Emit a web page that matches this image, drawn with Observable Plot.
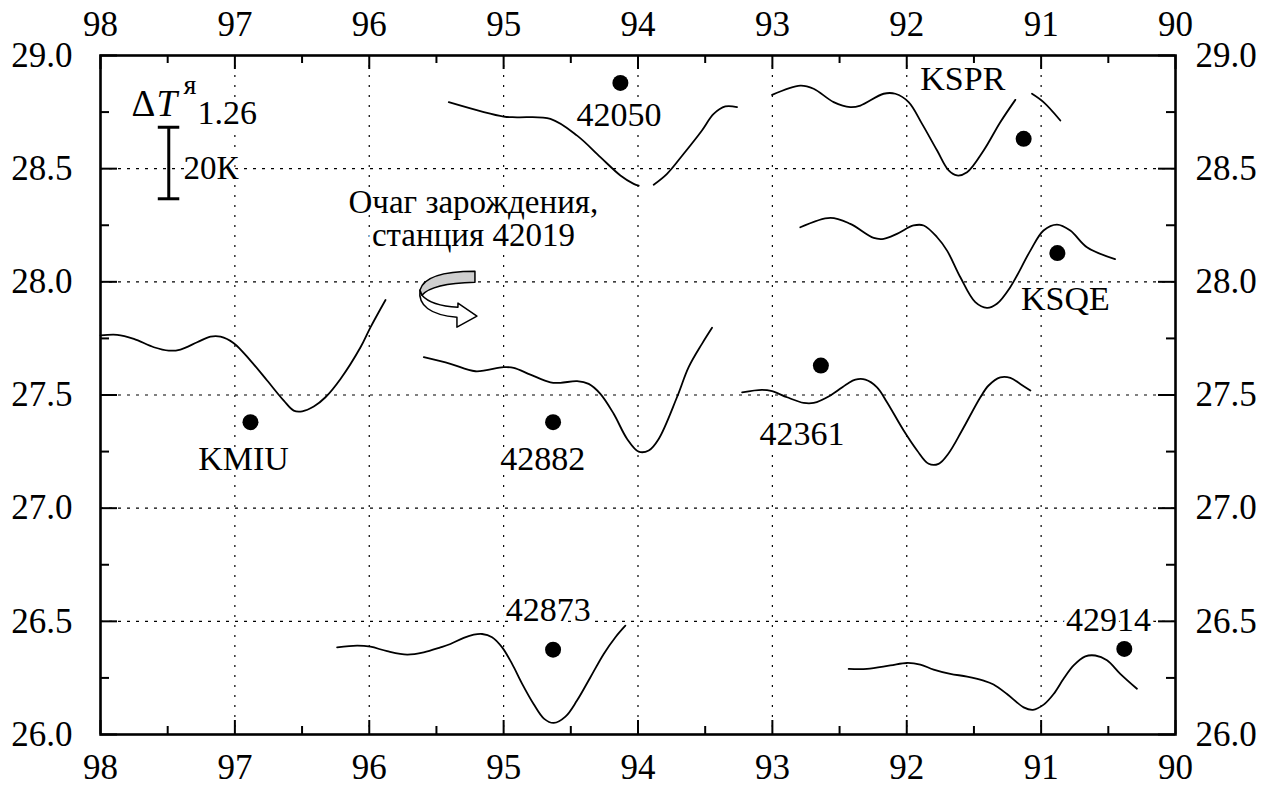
<!DOCTYPE html>
<html><head><meta charset="utf-8">
<script src="https://cdn.jsdelivr.net/npm/d3@7"></script>
<script src="https://cdn.jsdelivr.net/npm/@observablehq/plot@0.6"></script>
<style>
body{margin:0;background:#fff}
</style>
</head><body><div id="chart"></div>
<script>
// axis ticks
const xTicks = [98, 97, 96, 95, 94, 93, 92, 91, 90];
const xMinor = [97.5, 96.5, 95.5, 94.5, 93.5, 92.5, 91.5, 90.5];
const xGrid = [97, 96, 95, 94, 93, 92, 91];
const yTicks = [26.0, 26.5, 27.0, 27.5, 28.0, 28.5, 29.0];
const yMinor = [26.25, 26.75, 27.25, 27.75, 28.25, 28.75];
const yGrid = [26.5, 27.0, 27.5, 28.0, 28.5];

// station dots and labels
const stationNames = ["42050", "KSPR", "KSQE", "KMIU", "42882", "42361", "42873", "42914"];
const dotLon = [94.131, 91.13, 90.879, 96.884, 94.632, 92.639, 94.632, 90.381];
const dotLat = [28.879, 28.632, 28.127, 27.38, 27.38, 27.63, 26.375, 26.378];
const labelLon = [94.141, 91.583, 90.82, 96.936, 94.708, 92.779, 94.667, 90.498];
const labelLat = [28.735, 28.894, 27.922, 27.215, 27.218, 27.328, 26.548, 26.506];

// ΔT curves (lon, lat of the drawn trace); NaN = gap in the trace
const kmiuLon = [98.0, 97.876, 97.752, 97.603, 97.492, 97.405, 97.281, 97.182, 97.107, 97.008, 96.884, 96.76, 96.636, 96.562, 96.499, 96.413, 96.326, 96.214, 96.065, 95.991, 95.879];
const kmiuLat = [27.763, 27.766, 27.748, 27.711, 27.696, 27.701, 27.733, 27.758, 27.758, 27.729, 27.652, 27.564, 27.475, 27.431, 27.428, 27.449, 27.49, 27.571, 27.711, 27.799, 27.92];
const s42882Lon = [95.594, 95.396, 95.21, 95.0, 94.925, 94.801, 94.652, 94.577, 94.453, 94.367, 94.28, 94.181, 94.081, 93.995, 93.92, 93.846, 93.71, 93.623, 93.524, 93.449];
const s42882Lat = [27.667, 27.638, 27.605, 27.623, 27.62, 27.59, 27.556, 27.554, 27.561, 27.549, 27.505, 27.417, 27.306, 27.25, 27.255, 27.306, 27.49, 27.623, 27.726, 27.797];
const s42050Lon = [95.408, 95.0, 94.9, 94.652, 94.453, 94.28, 94.131, 94.032, 93.995, NaN, 93.883, 93.784, 93.66, 93.524, 93.437, 93.35, 93.263];
const s42050Lat = [28.794, 28.73, 28.727, 28.72, 28.646, 28.551, 28.47, 28.433, 28.425, NaN, 28.429, 28.477, 28.566, 28.669, 28.742, 28.775, 28.772];
const ksprLon = [93.002, 92.792, 92.693, 92.544, 92.42, 92.345, 92.172, 92.085, 91.986, 91.886, 91.774, 91.688, 91.626, 91.551, 91.428, 91.304, 91.192, NaN, 91.068, 90.982, 90.857];
const ksprLat = [28.826, 28.867, 28.853, 28.794, 28.772, 28.779, 28.831, 28.831, 28.794, 28.698, 28.58, 28.492, 28.47, 28.484, 28.58, 28.705, 28.804, NaN, 28.831, 28.794, 28.713];
const ksqeLon = [92.792, 92.568, 92.42, 92.246, 92.172, 92.073, 91.949, 91.874, 91.774, 91.7, 91.601, 91.49, 91.403, 91.329, 91.23, 91.08, 90.982, 90.882, 90.783, 90.659, 90.45];
const ksqeLat = [28.241, 28.283, 28.256, 28.194, 28.19, 28.212, 28.249, 28.249, 28.197, 28.138, 28.02, 27.91, 27.885, 27.903, 27.976, 28.138, 28.227, 28.253, 28.227, 28.153, 28.10];
const s42361Lon = [93.225, 93.077, 93.002, 92.891, 92.767, 92.693, 92.568, 92.444, 92.382, 92.308, 92.221, 92.147, 92.023, 91.923, 91.837, 91.763, 91.688, 91.589, 91.452, 91.391, 91.304, 91.229, 91.155, 91.08];
const s42361Lat = [27.512, 27.523, 27.517, 27.49, 27.465, 27.465, 27.498, 27.549, 27.568, 27.568, 27.534, 27.468, 27.343, 27.255, 27.196, 27.196, 27.243, 27.343, 27.49, 27.542, 27.578, 27.576, 27.549, 27.52];
const s42873Lon = [96.239, 96.09, 95.991, 95.867, 95.718, 95.594, 95.47, 95.396, 95.297, 95.222, 95.16, 95.086, 95.011, 94.937, 94.862, 94.777, 94.698, 94.627, 94.54, 94.454, 94.354, 94.255, 94.168, 94.094];
const s42873Lat = [26.385, 26.393, 26.388, 26.368, 26.353, 26.363, 26.385, 26.4, 26.427, 26.441, 26.444, 26.43, 26.385, 26.312, 26.224, 26.135, 26.069, 26.051, 26.079, 26.15, 26.253, 26.356, 26.43, 26.481];
const s42914Lon = [92.432, 92.296, 92.122, 91.998, 91.899, 91.8, 91.676, 91.551, 91.428, 91.354, 91.254, 91.13, 91.061, 90.981, 90.907, 90.833, 90.758, 90.671, 90.597, 90.51, 90.411, 90.287];
const s42914Lat = [26.29, 26.29, 26.305, 26.316, 26.309, 26.287, 26.268, 26.256, 26.238, 26.221, 26.179, 26.12, 26.109, 26.132, 26.179, 26.246, 26.305, 26.345, 26.349, 26.328, 26.268, 26.202];

// annotations
const annotationText = "Очаг зарождения,\nстанция 42019";
const annotationLon = [95.225];
const annotationLat = [28.16];
const arrowLon = [95.619];
const arrowLat = [28.045];
const scaleBarLon = [97.492];
const scaleBarLat = [28.683, 28.367];
const scaleBarLabel = "20К";

// build tables
const curveSets = [
  ["KMIU", kmiuLon, kmiuLat], ["42882", s42882Lon, s42882Lat], ["42050", s42050Lon, s42050Lat],
  ["KSPR", ksprLon, ksprLat], ["KSQE", ksqeLon, ksqeLat], ["42361", s42361Lon, s42361Lat],
  ["42873", s42873Lon, s42873Lat], ["42914", s42914Lon, s42914Lat]
];
const curves = curveSets.flatMap(([name, lons, lats]) => lons.map((lon, i) => ({station: name, lon, lat: lats[i]})));
const stations = stationNames.map((name, i) => ({name, lon: dotLon[i], lat: dotLat[i], labLon: labelLon[i], labLat: labelLat[i]}));

const W = 1273, H = 786;
const mL = 100, mR = 98, mT = 55, mB = 52;
const fw = W - mL - mR, fh = H - mT - mB;
const serif = "Liberation Serif";

function arrowMark(index, scales) {
  const x0 = scales.x(arrowLon[0]), y0 = scales.y(arrowLat[0]);
  const g = d3.create("svg:g")
    .attr("transform", `translate(${x0},${y0})`)
    .attr("stroke", "black").attr("stroke-width", 1.5).attr("stroke-linejoin", "round");
  g.append("path").attr("fill", "#fff")
    .attr("d", "M0,19 C-2,34 10,44 37,46 L37,56 L57,45 L38,32 L38,36 C20,35 8,31 2,24 Z");
  g.append("path").attr("fill", "#cfcfcf")
    .attr("d", "M55,0 Q5,0 0,19 L2,24 Q12,12 55,11 Z");
  return g.node();
}

const axisOpts = {fontFamily: serif, fontSize: 35, tickSize: 0, label: null};

const chart = Plot.plot({
  width: W, height: H,
  marginLeft: mL, marginRight: mR, marginTop: mT, marginBottom: mB,
  style: {fontFamily: serif, fontSize: "35px", background: "#fff", color: "black"},
  x: {domain: [98, 90]},
  y: {domain: [26, 29]},
  marks: [
    // grid
    Plot.ruleX(xGrid, {stroke: "black", strokeWidth: 1.2, strokeDasharray: "2,8"}),
    Plot.ruleY(yGrid, {stroke: "black", strokeWidth: 1.2, strokeDasharray: "3,6"}),
    // curves
    Plot.line(curves, {x: "lon", y: "lat", z: "station", curve: "catmull-rom", stroke: "black", strokeWidth: 1.8, strokeLinejoin: "round"}),
    // station labels
    Plot.text(stations, {x: "labLon", y: "labLat", text: "name", fontFamily: serif, fontSize: 34, fill: "black", stroke: "white", strokeWidth: 7}),
    Plot.dot(stations, {x: "lon", y: "lat", r: 8, fill: "black"}),
    // annotation
    Plot.text([annotationText], {x: annotationLon[0], y: annotationLat[0], text: d => d, fontFamily: serif, lineAnchor: "bottom", lineHeight: 1, fontSize: 33, fill: "black", stroke: "white", strokeWidth: 8}),
    arrowMark,
    // legend
    Plot.text(["Δ"], {frameAnchor: "top-left", dx: 31, dy: 60, text: d => d, fontFamily: serif, textAnchor: "start", lineAnchor: "bottom", fontSize: 37, fill: "black", stroke: "white", strokeWidth: 6}),
    Plot.text(["T"], {frameAnchor: "top-left", dx: 56, dy: 60, text: d => d, fontFamily: serif, textAnchor: "start", lineAnchor: "bottom", fontSize: 37, fontStyle: "italic", fill: "black", stroke: "white", strokeWidth: 6}),
    Plot.text(["я"], {frameAnchor: "top-left", dx: 83, dy: 38, text: d => d, fontFamily: serif, textAnchor: "start", lineAnchor: "bottom", fontSize: 28, fill: "black"}),
    Plot.text(["1.26"], {frameAnchor: "top-left", dx: 97, dy: 68, text: d => d, fontFamily: serif, textAnchor: "start", lineAnchor: "bottom", fontSize: 34, fill: "black", stroke: "white", strokeWidth: 6}),
    Plot.ruleX(scaleBarLon, {y1: scaleBarLat[0], y2: scaleBarLat[1], stroke: "black", strokeWidth: 3}),
    Plot.ruleY(scaleBarLat, {x1: 97.57, x2: 97.41, stroke: "black", strokeWidth: 3}),
    Plot.text([scaleBarLabel], {x: 97.382, y: 28.5, text: d => d, fontFamily: serif, textAnchor: "start", fontSize: 33, fill: "black", stroke: "white", strokeWidth: 8}),
    // inward ticks
    Plot.ruleX(xTicks, {insetTop: fh - 14, stroke: "black", strokeWidth: 2}),
    Plot.ruleX(xMinor, {insetTop: fh - 8, stroke: "black", strokeWidth: 2}),
    Plot.ruleX(xTicks, {insetBottom: fh - 14, stroke: "black", strokeWidth: 2}),
    Plot.ruleX(xMinor, {insetBottom: fh - 8, stroke: "black", strokeWidth: 2}),
    Plot.ruleY(yTicks, {insetRight: fw - 17, stroke: "black", strokeWidth: 2}),
    Plot.ruleY(yMinor, {insetRight: fw - 9, stroke: "black", strokeWidth: 2}),
    Plot.ruleY(yTicks, {insetLeft: fw - 17, stroke: "black", strokeWidth: 2}),
    Plot.ruleY(yMinor, {insetLeft: fw - 9, stroke: "black", strokeWidth: 2}),
    Plot.frame({stroke: "black", strokeWidth: 2.6}),
    // axes labels
    Plot.axisX({...axisOpts, anchor: "bottom", ticks: xTicks, tickPadding: 20, tickFormat: d => String(d)}),
    Plot.axisX({...axisOpts, anchor: "top", ticks: xTicks, tickPadding: 20, tickFormat: d => String(d)}),
    Plot.axisY({...axisOpts, anchor: "left", ticks: yTicks, tickPadding: 28, tickFormat: d => d.toFixed(1)}),
    Plot.axisY({...axisOpts, anchor: "right", ticks: yTicks, tickPadding: 20, tickFormat: d => d.toFixed(1)})
  ]
});
document.getElementById("chart").appendChild(chart);
</script></body></html>
